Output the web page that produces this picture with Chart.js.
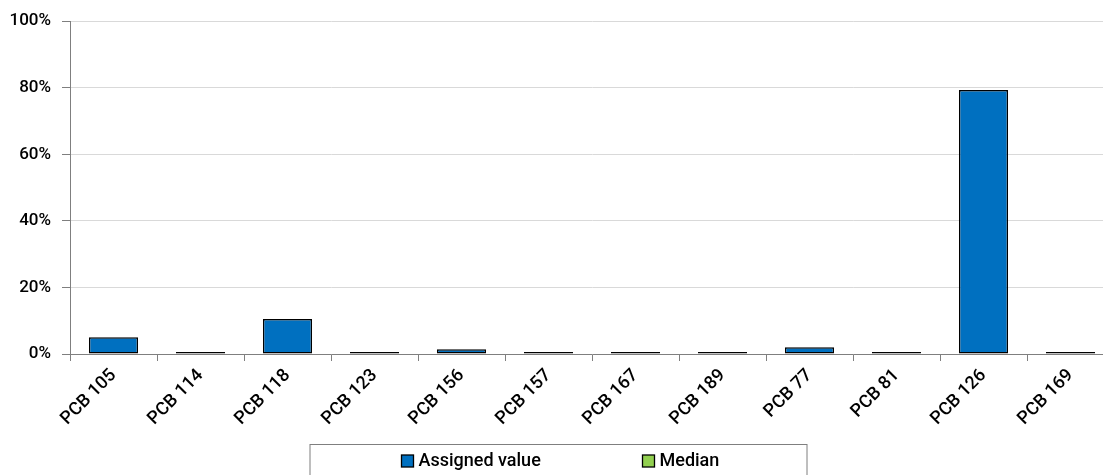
<!DOCTYPE html>
<html>
<head>
<meta charset="utf-8">
<script src="https://cdn.jsdelivr.net/npm/chart.js@4.4.0/dist/chart.umd.min.js"></script>
<style>
  html, body { margin: 0; padding: 0; background: #fff; overflow: hidden; }
  .chart-container { width: 1120px; height: 490px; }
</style>
</head>
<body>
<div class="chart-container"><canvas id="myChart" width="1120" height="490"></canvas></div>
<script>
// 카테고리 / 값
const categories = ['PCB 105', 'PCB 114', 'PCB 118', 'PCB 123', 'PCB 156', 'PCB 157',
                    'PCB 167', 'PCB 189', 'PCB 77', 'PCB 81', 'PCB 126', 'PCB 169'];
const assignedValues = [5.0, 0.6, 10.5, 0.6, 1.4, 0.6, 0.6, 0.6, 2.0, 0.6, 79.3, 0.6];
const medianValues = [null, null, null, null, null, null, null, null, null, null, null, null];
const yTicks = [0, 20, 40, 60, 80, 100];

const FONT = 'Roboto, "DejaVu Sans", sans-serif';

// 범례 박스 (아래쪽 테두리 있는 범례)
const boxLegend = {
  id: 'boxLegend',
  afterDraw(chart) {
    const ctx = chart.ctx;
    const cx = chart.width / 2 - 1.5;
    const top = 444.5;
    ctx.save();
    ctx.strokeStyle = '#7f7f7f';
    ctx.lineWidth = 1;
    ctx.strokeRect(cx - 248.5, top, 497, 60);
    ctx.font = '500 18px ' + FONT;
    ctx.textBaseline = 'middle';
    const items = [
      { x: cx - 157, ds: chart.data.datasets[0] },
      { x: cx + 84, ds: chart.data.datasets[1] }
    ];
    items.forEach(function (it) {
      ctx.fillStyle = it.ds.backgroundColor;
      ctx.fillRect(it.x, 455, 12, 12);
      ctx.strokeStyle = '#000';
      ctx.lineWidth = 1.3;
      ctx.strokeRect(it.x, 455, 12, 12);
      ctx.fillStyle = '#000';
      ctx.fillText(it.ds.label, it.x + 17, 461.5);
    });
    ctx.restore();
  }
};

var ctx = document.getElementById('myChart').getContext('2d');
var newChart = new Chart(ctx, {
  type: 'bar',
  data: {
    labels: categories,
    datasets: [
      { label: 'Assigned value', data: assignedValues, backgroundColor: '#0070C0',
        borderColor: '#000000', borderWidth: 1.5, borderSkipped: false },
      { label: 'Median', data: medianValues, backgroundColor: '#92D050',
        borderColor: '#000000', borderWidth: 1.5, borderSkipped: false }
    ]
  },
  options: {
    responsive: false,
    animation: false,
    grouped: false,
    barPercentage: 0.565,
    categoryPercentage: 1,
    layout: { padding: { top: 10, right: 6, left: 0, bottom: 46 } },
    plugins: {
      legend: { display: false },
      tooltip: { enabled: false }
    },
    scales: {
      x: {
        offset: true,
        grid: { display: true, drawOnChartArea: false, offset: true, tickLength: 7, tickColor: '#7f7f7f' },
        border: { color: '#7f7f7f', width: 1 },
        ticks: { color: '#000', font: { family: FONT, size: 18, weight: '500' }, minRotation: 45, maxRotation: 45, padding: 4 },
        afterFit(scale) { scale.height = 90; }
      },
      y: {
        min: 0, max: 100,
        afterBuildTicks(scale) { scale.ticks = yTicks.map(v => ({ value: v })); },
        grid: { color: '#d9d9d9', tickLength: 8, tickColor: '#7f7f7f' },
        border: { color: '#7f7f7f', width: 1 },
        ticks: { color: '#000', font: { family: FONT, size: 17, weight: '500' }, padding: 11,
                 callback: v => v + '%' },
        afterFit(scale) { scale.width = 70; }
      }
    }
  },
  plugins: [boxLegend]
});
</script>
</body>
</html>
